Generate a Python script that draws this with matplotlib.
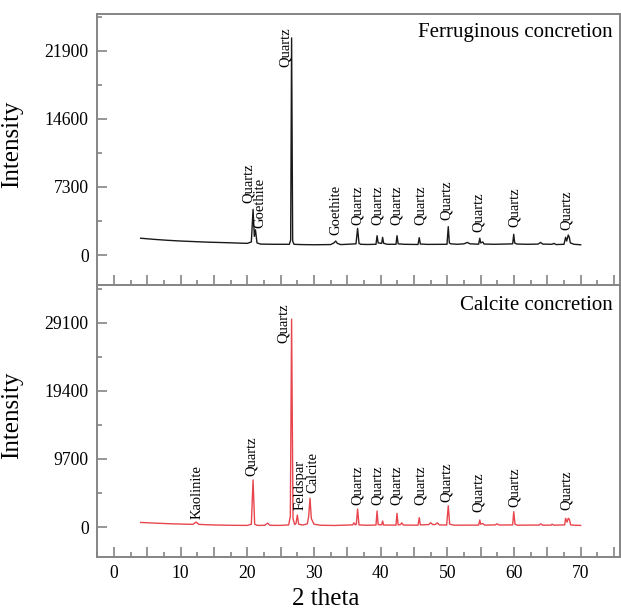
import matplotlib
matplotlib.use("Agg")
import matplotlib.pyplot as plt
from matplotlib.ticker import MultipleLocator, FuncFormatter

plt.rcParams['font.family'] = ['Liberation Serif', 'DejaVu Serif']

# ---------------- data: Ferruginous concretion ----------------
ferr_2theta = [4.0, 6.0, 8.0, 10.0, 12.0, 14.0, 16.0, 17.5, 19.0, 20.0, 20.6, 20.86, 21.05,
               21.22, 21.45, 22.0, 24.0, 26.3, 26.5, 26.64, 26.8, 27.0, 28.0, 30.0, 32.5,
               33.0, 33.25, 33.5, 34.0, 35.0, 36.3, 36.54, 36.75, 37.0, 38.0, 39.3, 39.46,
               39.62, 40.15, 40.29, 40.45, 41.0, 42.3, 42.45, 42.62, 43.5, 45.6, 45.79, 45.95,
               47.0, 49.95, 50.14, 50.3, 50.5, 51.5, 52.5, 53.0, 53.4, 54.7, 54.87, 55.0,
               55.32, 55.5, 57.0, 59.0, 59.8, 59.96, 60.1, 60.4, 62.0, 63.6, 64.0, 64.3,
               65.7, 66.0, 66.3, 67.5, 67.74, 67.9, 68.14, 68.3, 68.45, 69.0, 70.0]
ferr_int = [1800, 1680, 1580, 1500, 1440, 1380, 1340, 1310, 1270, 1250, 1400, 4900, 2000,
            2700, 1300, 1170, 1150, 1150, 1600, 23300, 1500, 1150, 1120, 1100, 1120,
            1300, 1500, 1250, 1120, 1150, 1200, 2860, 1250, 1150, 1130, 1150, 2070,
            1300, 1250, 1900, 1250, 1150, 1150, 2070, 1200, 1150, 1130, 1860, 1180,
            1140, 1150, 3040, 1300, 1200, 1150, 1200, 1350, 1200, 1160, 1800, 1300,
            1400, 1180, 1150, 1180, 1200, 2220, 1300, 1180, 1150, 1170, 1350, 1170,
            1150, 1250, 1120, 1150, 1900, 1500, 2150, 1900, 1300, 1150, 1100]

ferr_labels = ["Quartz", "Goethite", "Quartz", "Goethite", "Quartz", "Quartz", "Quartz",
               "Quartz", "Quartz", "Quartz", "Quartz", "Quartz"]
ferr_label_x = [20.15, 21.95, 25.65, 33.3, 36.5, 39.5, 42.4, 45.9, 49.9, 54.6, 60.1, 67.9]
ferr_label_y = [5580, 2900, 20180, 2150, 3220, 3220, 3220, 3220, 3760, 2470, 3000, 2680]

# ---------------- data: Calcite concretion ----------------
calc_2theta = [4.0, 6.0, 8.0, 10.0, 11.8, 12.35, 12.7, 14.0, 16.0, 18.0, 20.0, 20.6, 20.86,
               21.1, 21.5, 22.6, 23.05, 23.4, 25.0, 26.2, 26.45, 26.64, 26.85, 27.1, 27.3,
               27.5, 27.7, 28.3, 29.0, 29.2, 29.4, 29.6, 30.0, 31.0, 33.0, 35.8, 36.0,
               36.2, 36.35, 36.54, 36.75, 38.0, 39.3, 39.46, 39.62, 40.15, 40.29, 40.45,
               42.3, 42.45, 42.62, 43.0, 43.15, 43.4, 45.6, 45.79, 45.95, 47.2, 47.5, 47.8,
               48.2, 48.5, 48.8, 49.9, 50.14, 50.35, 51.0, 54.7, 54.87, 55.0, 55.32, 55.6,
               57.2, 57.45, 57.8, 59.8, 59.96, 60.15, 60.5, 63.8, 64.0, 64.3, 65.6, 65.7,
               66.0, 67.6, 67.74, 67.95, 68.14, 68.3, 68.5, 69.0, 70.0]
calc_int = [650, 560, 480, 420, 380, 700, 380, 320, 270, 240, 230, 400, 6700,
            400, 230, 240, 550, 240, 230, 300, 1500, 29600, 1200, 350, 500,
            1700, 400, 280, 450, 1500, 4100, 1200, 400, 250, 220, 300, 600,
            300, 400, 2560, 300, 250, 280, 2280, 350, 300, 850, 280,
            270, 1950, 300, 350, 600, 280, 260, 1330, 300, 350, 600, 350,
            350, 600, 300, 280, 3030, 400, 260, 270, 1000, 400, 500, 270,
            300, 450, 280, 300, 2180, 400, 260, 280, 450, 260, 270, 400,
            260, 300, 1240, 700, 1240, 1100, 300, 260, 230]

calc_labels = ["Kaolinite", "Quartz", "Quartz", "Feldspar", "Calcite", "Quartz", "Quartz",
               "Quartz", "Quartz", "Quartz", "Quartz", "Quartz", "Quartz"]
calc_label_x = [12.4, 20.65, 25.4, 27.9, 29.9, 36.5, 39.5, 42.4, 45.9, 49.9, 54.6, 60.1, 67.9]
calc_label_y = [1100, 7300, 26200, 2420, 4840, 3130, 3130, 3130, 3130, 3600, 2180, 2850, 2420]

ferr_yticks = [0, 7300, 14600, 21900]
calc_yticks = [0, 9700, 19400, 29100]

# ---------------- figure ----------------
W, H = 621, 609
fig = plt.figure(figsize=(W / 100, H / 100), dpi=100)

def px_axes(x0, y0, x1, y1):
    return fig.add_axes([x0 / W, 1 - y1 / H, (x1 - x0) / W, (y1 - y0) / H])

ax1 = px_axes(97, 14, 620, 285)
ax2 = px_axes(97, 285, 620, 557)

spine_col = '#858585'
xfmt = FuncFormatter(lambda v, p: f"{int(round(v))}" if round(v) % 10 == 0 else "")

def style(ax, yticks, ystep, ylim):
    ax.set_xlim(-2.55, 75.9)
    ax.set_ylim(*ylim)
    for s in ax.spines.values():
        s.set_color(spine_col)
        s.set_linewidth(1.4)
    ax.xaxis.set_major_locator(MultipleLocator(5))
    ax.xaxis.set_minor_locator(MultipleLocator(2.5))
    ax.set_yticks(yticks)
    ax.yaxis.set_minor_locator(MultipleLocator(ystep / 2))
    ax.tick_params(axis='both', which='major', direction='in', length=7.2, width=1.2,
                   color=spine_col, labelsize=12.7, pad=6)
    ax.tick_params(axis='both', which='minor', direction='in', length=3.6, width=1.2,
                   color=spine_col)
    ax.tick_params(axis='x', which='both', top=False)
    ax.tick_params(axis='y', which='both', right=False)
    ax.set_ylabel("Intensity", fontsize=18)
    ax.yaxis.set_label_coords((23 - 97) / 523, 0.52)

style(ax1, ferr_yticks, 7300, (-3220, 25870))
style(ax2, calc_yticks, 9700, (-4270, 34460))

ax1.plot(ferr_2theta, ferr_int, color='#1a1a1a', lw=1.0)
ax2.plot(calc_2theta, calc_int, color='#e8464e', lw=1.0)

ax1.tick_params(axis='x', labelbottom=False)
ax2.xaxis.set_major_formatter(xfmt)
ax2.set_xlabel("2 theta", fontsize=18)
ax2.xaxis.set_label_coords((325.5 - 97) / 523, -0.115)

for lab, x, y in zip(ferr_labels, ferr_label_x, ferr_label_y):
    ax1.text(x, y, lab, rotation=90, ha='center', va='bottom', fontsize=10.5)
for lab, x, y in zip(calc_labels, calc_label_x, calc_label_y):
    ax2.text(x, y, lab, rotation=90, ha='center', va='bottom', fontsize=10.5)

ax1.text(0.9866, 0.93, "Ferruginous concretion", transform=ax1.transAxes,
         ha='right', va='center', fontsize=15)
ax2.text(0.9866, 0.926, "Calcite concretion", transform=ax2.transAxes,
         ha='right', va='center', fontsize=15)

fig.savefig("out.png", dpi=100)
